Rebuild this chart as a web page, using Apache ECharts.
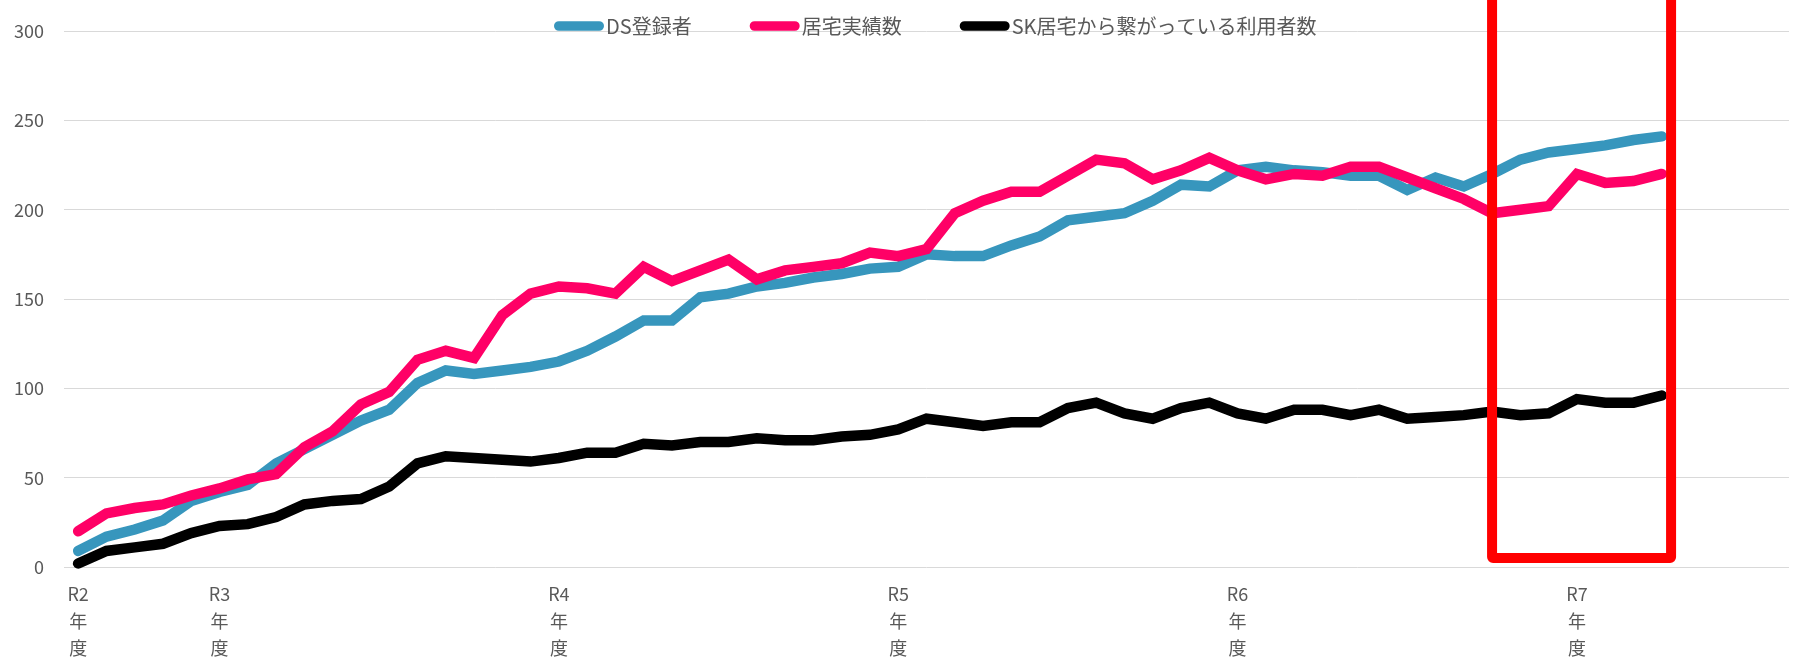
<!DOCTYPE html>
<html>
<head>
<meta charset="utf-8">
<script src="https://cdn.jsdelivr.net/npm/echarts@6/dist/echarts.min.js"></script>
<style>
  html, body { margin: 0; padding: 0; background: #ffffff; }
  #chart { width: 1802px; height: 662px; }
</style>
</head>
<body>
<div id="chart"></div>
<script>
// Months (2020/11 .. 2025/11)
const months = [
  '2020/11','2020/12',
  '2021/01','2021/02','2021/03','2021/04','2021/05','2021/06','2021/07','2021/08','2021/09','2021/10','2021/11','2021/12',
  '2022/01','2022/02','2022/03','2022/04','2022/05','2022/06','2022/07','2022/08','2022/09','2022/10','2022/11','2022/12',
  '2023/01','2023/02','2023/03','2023/04','2023/05','2023/06','2023/07','2023/08','2023/09','2023/10','2023/11','2023/12',
  '2024/01','2024/02','2024/03','2024/04','2024/05','2024/06','2024/07','2024/08','2024/09','2024/10','2024/11','2024/12',
  '2025/01','2025/02','2025/03','2025/04','2025/05','2025/06','2025/07','2025/08','2025/09','2025/10','2025/11'
];

// Fiscal-year tick labels shown on the x axis
const fiscalYearLabels = {
  '2020/11': 'R2年度',
  '2021/04': 'R3年度',
  '2022/04': 'R4年度',
  '2023/04': 'R5年度',
  '2024/04': 'R6年度',
  '2025/04': 'R7年度'
};

const seriesNames = ['DS登録者', '居宅実績数', 'SK居宅から繋がっている利用者数'];

const dsRegistered = [
  9, 17, 21, 26, 37, 42, 46, 58, 66, 74, 82, 88, 103, 110, 108, 110, 112, 115, 121, 129,
  138, 138, 151, 153, 157, 159, 162, 164, 167, 168, 175, 174, 174, 180, 185, 194, 196, 198, 205, 214,
  213, 222, 224, 222, 221, 219, 219, 211, 218, 213, 220, 228, 232, 234, 236, 239, 241
];

const homeCareResults = [
  20, 30, 33, 35, 40, 44, 49, 52, 67, 76, 91, 98, 116, 121, 117, 141, 153, 157, 156, 153,
  168, 160, 166, 172, 161, 166, 168, 170, 176, 174, 178, 198, 205, 210, 210, 219, 228, 226, 217, 222,
  229, 222, 217, 220, 219, 224, 224, 218, 212, 206, 198, 200, 202, 220, 215, 216, 220
];

const skConnectedUsers = [
  2, 9, 11, 13, 19, 23, 24, 28, 35, 37, 38, 45, 58, 62, 61, 60, 59, 61, 64, 64,
  69, 68, 70, 70, 72, 71, 71, 73, 74, 77, 83, 81, 79, 81, 81, 89, 92, 86, 83, 89,
  92, 86, 83, 88, 88, 85, 88, 83, 84, 85, 87, 85, 86, 94, 92, 92, 96
];

const yTicks = { min: 0, max: 300, interval: 50 };

// Highlight box (data terms): from category index, to category index, value range
const highlight = { fromIndex: 50, toIndex: 56.33, bottomValue: 5, topValue: 330 };

const colors = ['#3796BD', '#FF0066', '#000000'];
const textColor = '#595959';
const fontFamily = '"Noto Sans CJK JP", "Noto Sans", sans-serif';

const chart = echarts.init(document.getElementById('chart'));

const capsule = 'path://M5,0 L47,0 A5,5 0 0 1 47,10 L5,10 A5,5 0 0 1 5,0 Z';

function lineSeries(name, data, color) {
  return {
    name: name,
    type: 'line',
    data: data,
    symbol: 'none',
    smooth: false,
    lineStyle: { color: color, width: 10.5, cap: 'round', join: 'miter' },
    itemStyle: { color: color },
    emphasis: { disabled: true },
    animation: false
  };
}

chart.setOption({
  animation: false,
  backgroundColor: '#ffffff',
  textStyle: { fontFamily: fontFamily },
  grid: { left: 64, right: 13, top: 31, bottom: 94, containLabel: false },
  legend: {
    left: 549,
    top: 11,
    itemWidth: 50,
    itemHeight: 11,
    itemGap: 58,
    data: seriesNames.map((n, i) => ({ name: n, icon: capsule, itemStyle: { color: colors[i] } })),
    textStyle: { color: textColor, fontSize: 20, fontFamily: fontFamily, padding: [0, 0, 0, -3] }
  },
  xAxis: {
    type: 'category',
    data: months,
    boundaryGap: true,
    axisLine: { show: false },
    axisTick: { show: false },
    splitLine: { show: false },
    axisLabel: {
      interval: 0,
      color: textColor,
      fontSize: 18,
      lineHeight: 27,
      margin: 14,
      fontFamily: fontFamily,
      formatter: function (v) {
        const l = fiscalYearLabels[v];
        return l ? l.replace('年度', '\n年\n度') : '';
      }
    }
  },
  yAxis: {
    type: 'value',
    min: yTicks.min,
    max: yTicks.max,
    interval: yTicks.interval,
    axisLine: { show: false },
    axisTick: { show: false },
    splitLine: { lineStyle: { color: '#D9D9D9', width: 1 } },
    axisLabel: { color: textColor, fontSize: 18, margin: 20, fontFamily: fontFamily }
  },
  series: [
    lineSeries(seriesNames[0], dsRegistered, colors[0]),
    lineSeries(seriesNames[1], homeCareResults, colors[1]),
    lineSeries(seriesNames[2], skConnectedUsers, colors[2])
  ]
});

// Red highlight rectangle, positioned through the chart's own scales
function drawHighlight() {
  const px = (idx) => {
    const a = Math.floor(idx);
    const pa = chart.convertToPixel({ xAxisIndex: 0 }, a);
    const pb = chart.convertToPixel({ xAxisIndex: 0 }, a + 1);
    return pa + (pb - pa) * (idx - a);
  };
  const x0 = px(highlight.fromIndex);
  const x1 = px(highlight.toIndex);
  const yBottom = chart.convertToPixel({ yAxisIndex: 0 }, highlight.bottomValue);
  const yTop = chart.convertToPixel({ yAxisIndex: 0 }, highlight.topValue);
  chart.setOption({
    graphic: [{
      type: 'rect',
      z: 100,
      silent: true,
      shape: { x: x0, y: yTop, width: x1 - x0, height: yBottom - yTop, r: 1 },
      style: { fill: 'none', stroke: '#FF0000', lineWidth: 10, lineJoin: 'round' }
    }]
  });
}
drawHighlight();
</script>
</body>
</html>
